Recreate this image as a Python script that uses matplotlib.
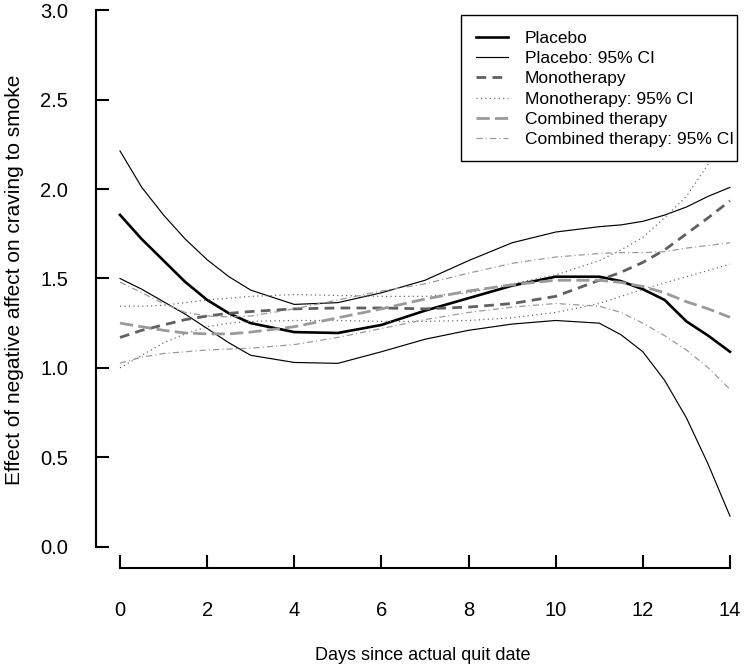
import matplotlib
matplotlib.use("Agg")
import matplotlib.pyplot as plt
from matplotlib.patches import Rectangle

# Valores
days = [0, 0.5, 1, 1.5, 2, 2.5, 3, 4, 5, 6, 7, 8, 9, 10, 11, 11.5, 12, 12.5, 13, 13.5, 14]

placebo = [1.856, 1.72, 1.60, 1.48, 1.38, 1.305, 1.25, 1.20, 1.195, 1.24, 1.32, 1.39, 1.46,
           1.51, 1.51, 1.485, 1.44, 1.38, 1.26, 1.18, 1.09]
placebo_hi = [2.214, 2.01, 1.855, 1.72, 1.605, 1.51, 1.435, 1.355, 1.365, 1.42, 1.49, 1.60,
              1.70, 1.76, 1.79, 1.80, 1.82, 1.855, 1.90, 1.96, 2.01]
placebo_lo = [1.50, 1.44, 1.37, 1.30, 1.22, 1.14, 1.07, 1.03, 1.025, 1.09, 1.16, 1.21, 1.245,
              1.265, 1.25, 1.185, 1.09, 0.93, 0.72, 0.46, 0.17]

mono = [1.17, 1.21, 1.24, 1.27, 1.29, 1.305, 1.315, 1.33, 1.335, 1.335, 1.33, 1.34, 1.36,
        1.40, 1.49, 1.535, 1.59, 1.66, 1.75, 1.84, 1.935]
mono_hi = [1.345, 1.345, 1.35, 1.365, 1.38, 1.39, 1.40, 1.41, 1.405, 1.40, 1.40, 1.42, 1.47,
           1.52, 1.60, 1.66, 1.73, 1.84, 1.96, 2.14, 2.35]
mono_lo = [1.00, 1.07, 1.14, 1.19, 1.23, 1.25, 1.26, 1.265, 1.265, 1.26, 1.26, 1.265, 1.28,
           1.31, 1.36, 1.40, 1.44, 1.475, 1.51, 1.545, 1.58]

comb = [1.25, 1.23, 1.21, 1.195, 1.19, 1.19, 1.20, 1.23, 1.28, 1.33, 1.385, 1.43, 1.465,
        1.49, 1.49, 1.478, 1.455, 1.42, 1.37, 1.33, 1.283]
comb_hi = [1.48, 1.42, 1.36, 1.31, 1.29, 1.285, 1.29, 1.33, 1.38, 1.43, 1.47, 1.53, 1.585,
           1.62, 1.64, 1.645, 1.645, 1.65, 1.67, 1.685, 1.70]
comb_lo = [1.026, 1.06, 1.08, 1.09, 1.10, 1.105, 1.11, 1.13, 1.17, 1.22, 1.27, 1.31, 1.34,
           1.36, 1.345, 1.31, 1.25, 1.18, 1.10, 1.00, 0.88]

xticks = [0, 2, 4, 6, 8, 10, 12, 14]
yticks = [0.0, 0.5, 1.0, 1.5, 2.0, 2.5, 3.0]

plt.rcParams['font.family'] = ['Liberation Sans', 'DejaVu Sans']
plt.rcParams['lines.scale_dashes'] = False

W, H = 744, 669
fig = plt.figure(figsize=(W / 100, H / 100), dpi=100)
ax = fig.add_axes([96 / W, (H - 568) / H, (W - 96) / W, 568 / H])

gris_osc = '#606060'
gris_cla = '#9a9a9a'

ax.plot(days, placebo, color='black', lw=1.9, label='Placebo')
ax.plot(days, placebo_hi, color='black', lw=0.85, label='Placebo: 95% CI')
ax.plot(days, placebo_lo, color='black', lw=0.85)
ax.plot(days, mono, color=gris_osc, lw=2.0, dashes=(7, 4.5), label='Monotherapy')
ax.plot(days, mono_hi, color=gris_osc, lw=0.9, dashes=(0.8, 2.4), label='Monotherapy: 95% CI')
ax.plot(days, mono_lo, color=gris_osc, lw=0.9, dashes=(0.8, 2.4))
ax.plot(days, comb, color=gris_cla, lw=2.0, dashes=(9.5, 3.8), label='Combined therapy')
ax.plot(days, comb_hi, color=gris_cla, lw=0.9, dashes=(4.5, 2.2, 0.8, 2.2),
        label='Combined therapy: 95% CI')
ax.plot(days, comb_lo, color=gris_cla, lw=0.9, dashes=(4.5, 2.2, 0.8, 2.2))

ax.set_xlim((96 - 120) / 43.57, (W - 120) / 43.57)
ax.set_ylim((546.5 - 568) / 178.67, 546.5 / 178.67)

for s in ['top', 'right']:
    ax.spines[s].set_visible(False)
ax.spines['left'].set_bounds(0, 3)
ax.spines['bottom'].set_bounds(0, 14)
for s in ['left', 'bottom']:
    ax.spines[s].set_linewidth(1.5)

ax.set_xticks(xticks)
ax.set_yticks(yticks)
ax.set_yticklabels(['%.1f' % v for v in yticks])
ax.tick_params(axis='both', direction='in', length=9.5, width=1.5, labelsize=14.5)
ax.tick_params(axis='x', pad=24)
ax.tick_params(axis='y', pad=20)

fig.text(15 / W, 1 - 280 / H, 'Effect of negative affect on craving to smoke',
         rotation=90, ha='center', va='center', fontsize=15)
fig.text(423 / W, 1 - 655 / H, 'Days since actual quit date',
         ha='center', va='center', fontsize=13)

# caja de la leyenda (estilo R: margen derecho estrecho)
caja = Rectangle((461 / W, 1 - 161 / H), 276 / W, 146 / H, transform=fig.transFigure,
                 facecolor='white', edgecolor='black', lw=1.0, zorder=4, clip_on=False)
ax.add_patch(caja)

leg = ax.legend(loc='upper left', bbox_to_anchor=(476 / W, 1 - 30.5 / H),
                bbox_transform=fig.transFigure, fontsize=12.5, frameon=False,
                handlelength=1.84, handletextpad=0.98, labelspacing=0.3,
                borderpad=0, borderaxespad=0)
leg.set_zorder(5)

fig.savefig('out.png', dpi=100)
